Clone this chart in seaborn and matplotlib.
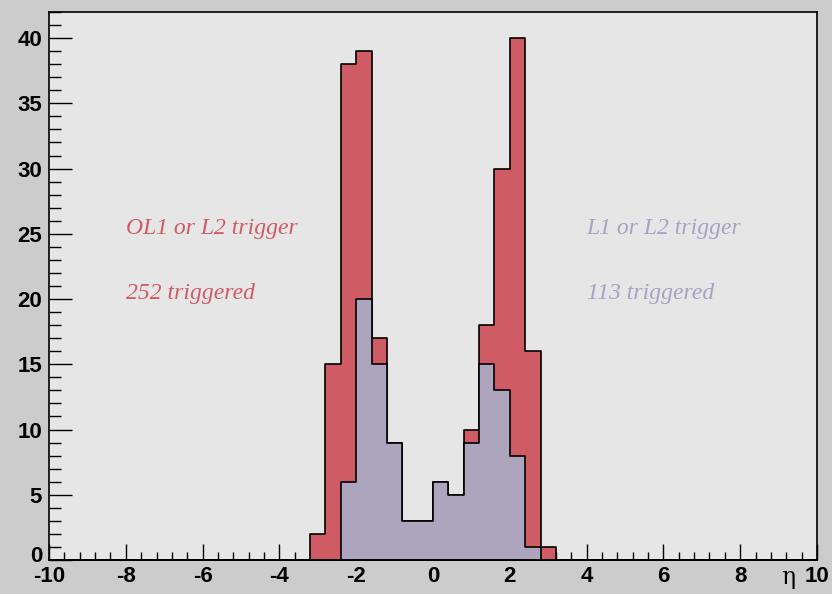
import numpy as np
import pandas as pd
import matplotlib
matplotlib.use("Agg")
import matplotlib.pyplot as plt
from matplotlib.ticker import MultipleLocator
from matplotlib.transforms import ScaledTranslation
import seaborn as sns

# ---- data (bin centres of 0.4-wide eta bins, and counts) ----
eta_centers = [-3.0, -2.6, -2.2, -1.8, -1.4, -1.0, -0.6, -0.2,
               0.2, 0.6, 1.0, 1.4, 1.8, 2.2, 2.6, 3.0]
counts_ol1_l2 = [2, 15, 38, 39, 17, 9, 3, 3, 6, 5, 10, 18, 30, 40, 16, 1]
counts_l1_l2 = [0, 0, 6, 20, 15, 9, 3, 3, 6, 5, 9, 15, 13, 8, 1, 0]
label_ol1 = ["OL1 or L2 trigger", "252 triggered"]
label_l1 = ["L1 or L2 trigger", "113 triggered"]
x_ticks = [-10, -8, -6, -4, -2, 0, 2, 4, 6, 8, 10]
y_ticks = [0, 5, 10, 15, 20, 25, 30, 35, 40]

df = pd.DataFrame({"eta": eta_centers, "ol1": counts_ol1_l2, "l1": counts_l1_l2})

sns.set_style("ticks")
plt.rcParams["axes.unicode_minus"] = False

RED = "#cf5c64"
BLUE = "#aca5bd"
CANVAS = "#cccccc"
PAD = "#e6e6e6"

fig = plt.figure(figsize=(8.32, 5.94), dpi=100, facecolor=CANVAS)
ax = fig.add_axes([49 / 832, 1 - 560 / 594, 768 / 832, 548 / 594])
ax.set_facecolor(PAD)

sns.histplot(data=df, x="eta", weights="ol1", binwidth=0.4, binrange=(-10, 10), element="step",
             fill=True, color=RED, alpha=1, edgecolor="black", linewidth=1.2, ax=ax)
sns.histplot(data=df, x="eta", weights="l1", binwidth=0.4, binrange=(-10, 10), element="step",
             fill=True, color=BLUE, alpha=1, edgecolor="black", linewidth=1.2, ax=ax)

ax.set_xlim(-10, 10)
ax.set_ylim(0, 42)
ax.set_xlabel("")
ax.set_ylabel("")
ax.set_xticks(x_ticks)
ax.set_yticks(y_ticks)
ax.set_xticklabels([str(t) for t in x_ticks])
ax.set_yticklabels([str(t) for t in y_ticks])
ax.xaxis.set_minor_locator(MultipleLocator(0.4))
ax.yaxis.set_minor_locator(MultipleLocator(1))

ax.tick_params(axis="y", which="major", direction="in", length=16.5, width=1, color="black", pad=5)
ax.tick_params(axis="y", which="minor", direction="in", length=8.5, width=1, color="black")
ax.tick_params(axis="x", which="major", direction="in", length=11.5, width=1, color="black", pad=4)
ax.tick_params(axis="x", which="minor", direction="in", length=6, width=1, color="black")
for lab in ax.get_xticklabels() + ax.get_yticklabels():
    lab.set_fontfamily("Liberation Sans")
    lab.set_fontweight("bold")
    lab.set_fontsize(16)
    lab.set_color("black")

# lift the "0" y label slightly, as in the reference, so it sits above "-10"
ylab0 = ax.get_yticklabels()[0]
ylab0.set_transform(ylab0.get_transform() + ScaledTranslation(0, 0.06, fig.dpi_scale_trans))

for s in ax.spines.values():
    s.set_visible(True)
    s.set_color("black")
    s.set_linewidth(1.2)

txt_kw = dict(fontfamily="Liberation Serif", fontstyle="italic", fontsize=17, va="baseline", ha="left")
ax.text(-8.0, 25, label_ol1[0], color="#d05a64", **txt_kw)
ax.text(-8.0, 20, label_ol1[1], color="#d05a64", **txt_kw)
ax.text(4.0, 25, label_l1[0], color="#a9a1c3", **txt_kw)
ax.text(4.0, 20, label_l1[1], color="#a9a1c3", **txt_kw)

ax.text((788 - 49) / 768, -(584 - 560) / 548, "η", transform=ax.transAxes,
        fontfamily="DejaVu Serif", fontsize=17, ha="center", va="baseline", color="black")

fig.savefig("out.png", dpi=100, facecolor=CANVAS)
